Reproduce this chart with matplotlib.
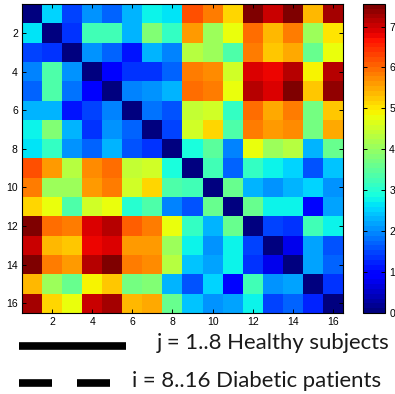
import numpy as np
import matplotlib
matplotlib.use("Agg")
import matplotlib.pyplot as plt
from matplotlib.lines import Line2D

# distance matrix, rows i = 1..16, cols j = 1..16
row01 = [0.00, 2.50, 1.50, 2.05, 1.70, 2.25, 2.83, 2.65, 6.15, 5.85, 5.10, 7.45, 7.07, 7.50, 5.40, 7.30]
row02 = [2.60, 0.00, 1.40, 3.30, 3.30, 2.30, 3.80, 3.10, 5.60, 4.10, 4.75, 6.00, 5.35, 5.80, 4.10, 5.00]
row03 = [1.50, 1.30, 0.00, 2.05, 1.75, 1.15, 2.25, 2.00, 4.25, 4.10, 3.40, 5.80, 5.20, 5.50, 3.60, 4.80]
row04 = [2.00, 3.35, 2.05, 0.00, 0.85, 1.40, 1.30, 1.75, 5.80, 5.70, 4.50, 6.94, 6.80, 7.15, 4.90, 7.15]
row05 = [1.70, 3.35, 1.85, 0.90, 0.00, 1.90, 2.05, 2.35, 5.90, 5.80, 4.80, 7.15, 6.95, 7.45, 5.20, 7.40]
row06 = [2.30, 2.30, 1.15, 1.45, 2.00, 0.00, 1.85, 1.55, 4.40, 4.50, 3.10, 6.00, 5.50, 5.80, 3.70, 5.25]
row07 = [2.83, 3.80, 2.30, 1.40, 2.05, 1.75, 0.00, 1.45, 4.50, 5.10, 3.40, 5.80, 5.55, 5.70, 3.70, 5.50]
row08 = [2.70, 3.10, 2.05, 1.75, 2.35, 1.55, 1.40, 0.00, 2.90, 3.50, 1.90, 4.75, 4.10, 4.25, 2.35, 3.60]
row09 = [6.15, 5.60, 4.25, 5.70, 5.90, 4.40, 4.50, 2.90, 0.00, 3.30, 1.70, 3.10, 2.83, 2.55, 1.60, 2.45]
row10 = [5.85, 4.10, 4.10, 5.60, 5.80, 4.50, 5.10, 3.40, 3.20, 0.00, 3.60, 2.35, 2.05, 2.25, 2.50, 2.05]
row11 = [5.10, 4.75, 3.35, 4.50, 4.75, 3.00, 3.35, 1.90, 1.60, 3.60, 0.00, 3.60, 2.83, 2.83, 1.05, 2.20]
row12 = [7.45, 6.00, 5.85, 6.95, 7.15, 6.10, 5.80, 4.75, 3.10, 2.35, 3.60, 0.00, 1.50, 1.40, 3.30, 2.75]
row13 = [7.07, 5.40, 5.20, 6.80, 6.90, 5.55, 5.55, 4.10, 2.83, 2.05, 2.83, 1.45, 0.00, 0.75, 2.15, 1.60]
row14 = [7.55, 5.80, 5.55, 7.15, 7.45, 5.85, 5.70, 4.35, 2.45, 2.20, 2.83, 1.40, 0.75, 0.00, 2.20, 1.70]
row15 = [5.40, 4.10, 3.60, 4.90, 5.20, 3.70, 3.80, 2.35, 1.55, 2.55, 1.05, 3.30, 2.05, 2.20, 0.00, 1.30]
row16 = [7.20, 5.10, 4.75, 7.00, 7.30, 5.35, 5.50, 3.60, 2.40, 2.05, 2.15, 2.75, 1.50, 1.70, 1.25, 0.00]
rows = [row01, row02, row03, row04, row05, row06, row07, row08,
        row09, row10, row11, row12, row13, row14, row15, row16]

ticks = [2, 4, 6, 8, 10, 12, 14, 16]
cbar_ticks = [0, 1, 2, 3, 4, 5, 6, 7]
vmax = 7.55

legend_labels = ["j = 1..8 Healthy subjects", "i = 8..16 Diabetic patients"]

D = np.array(rows)
n = D.shape[0]

W, H = 395, 394
fig = plt.figure(figsize=(W / 100, H / 100), dpi=100)

def box(x0, y0, x1, y1):
    # pixel box (top-left origin) -> figure fraction
    return [x0 / W, 1 - y1 / H, (x1 - x0) / W, (y1 - y0) / H]

ax = fig.add_axes(box(22, 4, 343, 313))
cax = fig.add_axes(box(363, 4, 385, 313))

cmap = plt.get_cmap("jet", 64)
im = ax.imshow(D, cmap=cmap, vmin=0, vmax=vmax, aspect="auto",
               interpolation="nearest",
               extent=[0.5, n + 0.5, n + 0.5, 0.5])

tick_font = dict(family="Liberation Sans", size=7.5)
ax.set_xticks(ticks)
ax.set_yticks(ticks)
ax.set_xticklabels([str(t) for t in ticks], **tick_font)
ax.set_yticklabels([str(t) for t in ticks], **tick_font)
ax.tick_params(direction="in", length=3, width=0.7, top=True, right=True, pad=3)
for s in ax.spines.values():
    s.set_linewidth(0.8)

cb = fig.colorbar(im, cax=cax, ticks=cbar_ticks)
cb.outline.set_linewidth(0.8)
cax.tick_params(direction="in", length=3, width=0.7, left=True, right=True, pad=3)
cax.set_yticklabels([str(t) for t in cbar_ticks], **tick_font)

# legend-like annotation under the chart
lw = 5.5
fig.add_artist(Line2D([19 / W, 126 / W], [1 - 345.5 / H] * 2, color="black",
                      linewidth=lw, solid_capstyle="butt"))
dash = Line2D([19 / W, 111 / W], [1 - 383 / H] * 2, color="black",
              linewidth=lw, dash_capstyle="butt",
              linestyle=(0, (33 * 0.72 / lw, 25 * 0.72 / lw)))
fig.add_artist(dash)

txt_font = dict(family="Lato", size=13.5, color="#1a1a1a")
t1 = fig.text(157 / W, 1 - 349 / H, legend_labels[0], va="baseline", ha="left", **txt_font)
t2 = fig.text(132 / W, 1 - 387 / H, legend_labels[1], va="baseline", ha="left", **txt_font)

# fit the text widths to the reference
fig.canvas.draw()
r = fig.canvas.get_renderer()
for t, target in [(t1, 233), (t2, 248)]:
    w = t.get_window_extent(r).width
    t.set_fontsize(t.get_fontsize() * target / w)

fig.savefig("out.png", dpi=100)
